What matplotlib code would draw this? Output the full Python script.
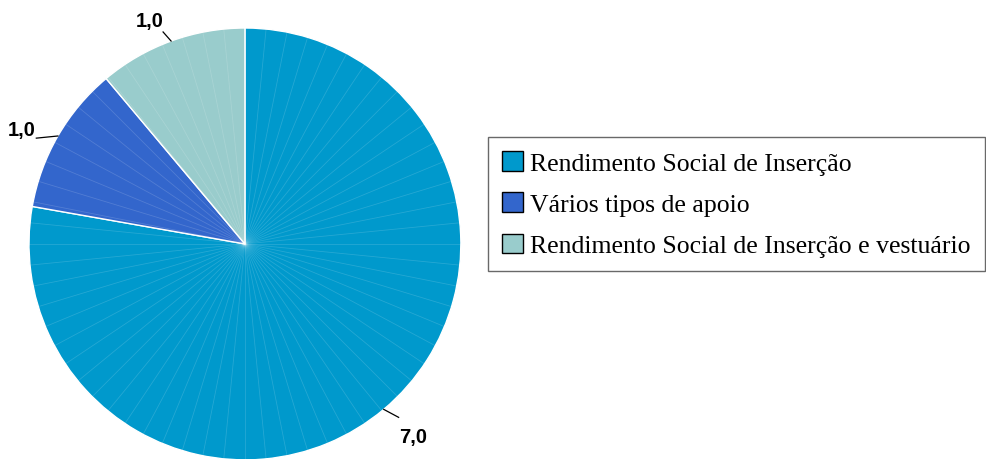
import numpy as np
import matplotlib.pyplot as plt
from matplotlib.patches import Patch

categorias = ['Rendimento Social de Inserção',
              'Vários tipos de apoio',
              'Rendimento Social de Inserção e vestuário']
valores = [7.0, 1.0, 1.0]
rotulos = ['7,0', '1,0', '1,0']
cores = ['#0099CC', '#3366CC', '#99CCCC']

# deslocamentos (unidades do raio) da linha de chamada e do rótulo
fim_linha = [(0.069, -0.037), (-0.10, -0.01), (-0.037, 0.042)]
pos_rotulo = [(0.134, -0.125), (-0.167, 0.032), (-0.097, 0.093)]

fig = plt.figure(figsize=(9.86, 4.6), dpi=100)
ax = fig.add_axes([0.0294, -0.002, 0.438, 0.939])

wedges, _ = ax.pie(valores, colors=cores, startangle=90, counterclock=False,
                   radius=1, wedgeprops=dict(edgecolor='white', linewidth=1))

# raios finos do desenho original
for a in np.arange(0, 360, 360 / 64):
    t = np.deg2rad(a)
    ax.plot([0, np.cos(t)], [0, np.sin(t)], color='white', lw=0.6, alpha=0.15)

for w, rot, fl, pr in zip(wedges, rotulos, fim_linha, pos_rotulo):
    ang = np.deg2rad((w.theta1 + w.theta2) / 2)
    x0, y0 = np.cos(ang), np.sin(ang)
    ax.plot([x0, x0 + fl[0]], [y0, y0 + fl[1]], color='black', lw=0.9)
    ax.text(x0 + pr[0], y0 + pr[1], rot, ha='center', va='center',
            fontsize=14.5, fontweight='bold', family='Liberation Sans')

ax.set_xlim(-1, 1)
ax.set_ylim(-1, 1)
ax.set_aspect('equal')
ax.axis('off')

handles = [Patch(facecolor=c, edgecolor='black', linewidth=1) for c in cores]
leg = fig.legend(handles, categorias, loc='upper left',
                 bbox_to_anchor=(488 / 986, 1 - 138 / 460),
                 bbox_transform=fig.transFigure, borderaxespad=0,
                 prop={'family': 'Liberation Serif', 'size': 18.5},
                 fancybox=False, handlelength=0.8, handleheight=0.8,
                 handletextpad=0.3, labelspacing=0.68, borderpad=0.55)
leg.get_frame().set_edgecolor('#444444')
leg.get_frame().set_linewidth(1)

plt.savefig('out.png', dpi=100)
